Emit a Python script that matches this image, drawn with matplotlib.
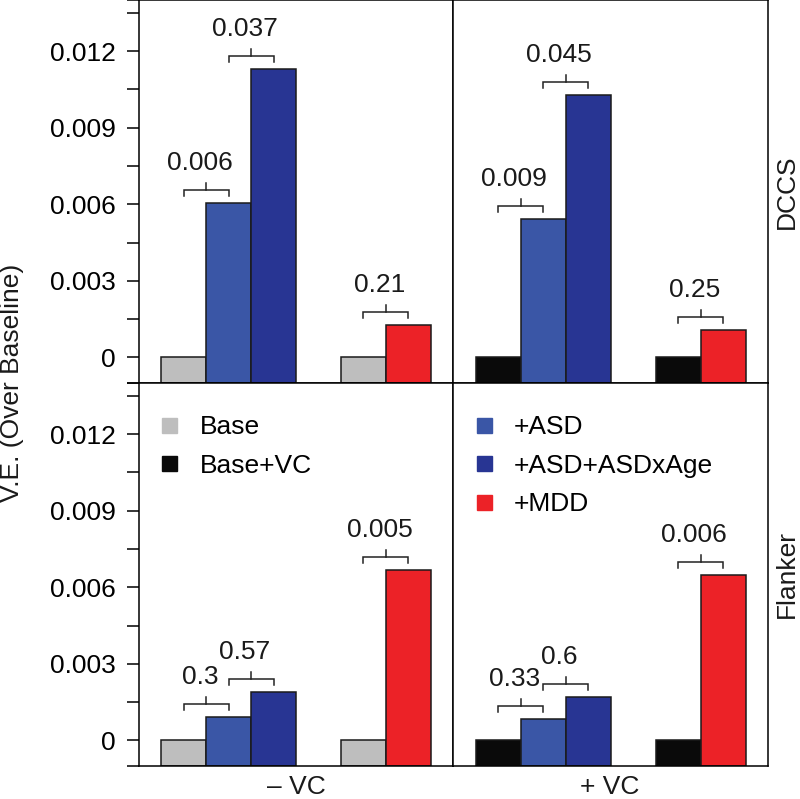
import matplotlib
matplotlib.use("Agg")
import matplotlib.pyplot as plt
from matplotlib.lines import Line2D

plt.rcParams['font.family'] = ['Liberation Sans', 'DejaVu Sans']

# bar order: Base, +ASD, +ASD+ASDxAge, Base, +MDD
positions = [1, 2, 3, 5, 6]
dccs_no_vc = [0.0, 0.00606, 0.01128, 0.0, 0.00128]
dccs_vc = [0.0, 0.00542, 0.01026, 0.0, 0.00107]
flanker_no_vc = [0.0, 0.00092, 0.0019, 0.0, 0.00669]
flanker_vc = [0.0, 0.00084, 0.00172, 0.0, 0.0065]

# p-values over the brackets (pairs of bars)
pairs = [(0, 1), (1, 2), (3, 4)]
p_dccs_no_vc = ["0.006", "0.037", "0.21"]
p_dccs_vc = ["0.009", "0.045", "0.25"]
p_flanker_no_vc = ["0.3", "0.57", "0.005"]
p_flanker_vc = ["0.33", "0.6", "0.006"]

grey = "#bebebe"
black = "#0a0a0a"
asd = "#3a56a6"
asd_age = "#283593"
mdd = "#ec2227"
cols_no_vc = [grey, asd, asd_age, grey, mdd]
cols_vc = [black, asd, asd_age, black, mdd]

ymin, ymax = -0.001, 0.014
fs = 19

fig = plt.figure(figsize=(8, 7.99), dpi=100)
W, H = 800, 799

def make_ax(x0, y0, x1, y1):
    return fig.add_axes([x0 / W, 1 - y1 / H, (x1 - x0) / W, (y1 - y0) / H])

ax_tl = make_ax(139, 0, 453, 383)
ax_tr = make_ax(453, 0, 768, 383)
ax_bl = make_ax(139, 383, 453, 766)
ax_br = make_ax(453, 383, 768, 766)

px = (ymax - ymin) / 383.0  # data units per pixel


def panel(ax, vals, cols, labels, left):
    ax.bar(positions, [v - ymin for v in vals], bottom=ymin, width=1.0,
           color=cols, edgecolor="#1a1a1a", linewidth=1.1)
    for (i, j), lab in zip(pairs, labels):
        xa, xb = positions[i], positions[j]
        top = max(vals[i], vals[j]) + 13 * px
        ax.plot([xa, xa, xb, xb], [top - 6 * px, top, top, top - 6 * px],
                color="#222222", lw=1.1, solid_joinstyle="miter")
        xm = (xa + xb) / 2
        ax.plot([xm, xm], [top, top + 7 * px], color="#222222", lw=1.1)
        ax.text(xm - 0.14, top + 20 * px, lab, ha="center", va="baseline",
                fontsize=fs, color="#1a1a1a")
    ax.set_xlim(0, 7)
    ax.set_ylim(ymin, ymax)
    ax.set_xticks([])
    for s in ax.spines.values():
        s.set_linewidth(1.1)
    if left:
        ticks = [ymin] + [k * 0.0015 for k in range(10)] + [ymax]
        ax.set_yticks(ticks)
        lbls = []
        for t in ticks:
            if t in (ymin, ymax):
                lbls.append("")
            else:
                k = round(t / 0.0015)
                lbls.append(("0" if k == 0 else f"{t:.3f}") if k % 2 == 0 else "")
        ax.set_yticklabels(lbls)
        ax.tick_params(axis="y", length=9, width=1.1, pad=8, labelsize=fs)
    else:
        ax.set_yticks([])


panel(ax_tl, dccs_no_vc, cols_no_vc, p_dccs_no_vc, True)
panel(ax_tr, dccs_vc, cols_vc, p_dccs_vc, False)
panel(ax_bl, flanker_no_vc, cols_no_vc, p_flanker_no_vc, True)
panel(ax_br, flanker_vc, cols_vc, p_flanker_vc, False)


def sq(c):
    return Line2D([], [], marker="s", ls="", markersize=10.8, color=c)


leg_kw = dict(loc="upper left", frameon=False, fontsize=fs, borderpad=0,
              borderaxespad=0, handlelength=0.76, handletextpad=0.78,
              labelspacing=0.55)
ax_bl.legend([sq(grey), sq(black)], ["Base", "Base+VC"],
             bbox_to_anchor=(0.065, 0.916), **leg_kw)
ax_br.legend([sq(asd), sq(asd_age), sq(mdd)], ["+ASD", "+ASD+ASDxAge", "+MDD"],
             bbox_to_anchor=(0.065, 0.916), **leg_kw)

fig.text(0.015, 0.5207, "V.E. (Over Baseline)", rotation=90, ha="center",
         va="center", fontsize=fs, color="#1a1a1a")
fig.text(0.984, 0.7603, "DCCS", rotation=90, ha="center", va="center",
         fontsize=fs, color="#1a1a1a")
fig.text(0.984, 0.281, "Flanker", rotation=90, ha="center", va="center",
         fontsize=fs, color="#1a1a1a")
fig.text(0.371, 0.006, "\u2013 VC", ha="center", va="baseline", fontsize=fs,
         color="#1a1a1a")
fig.text(0.7625, 0.006, "+ VC", ha="center", va="baseline", fontsize=fs,
         color="#1a1a1a")

fig.savefig("out.png", dpi=100)
